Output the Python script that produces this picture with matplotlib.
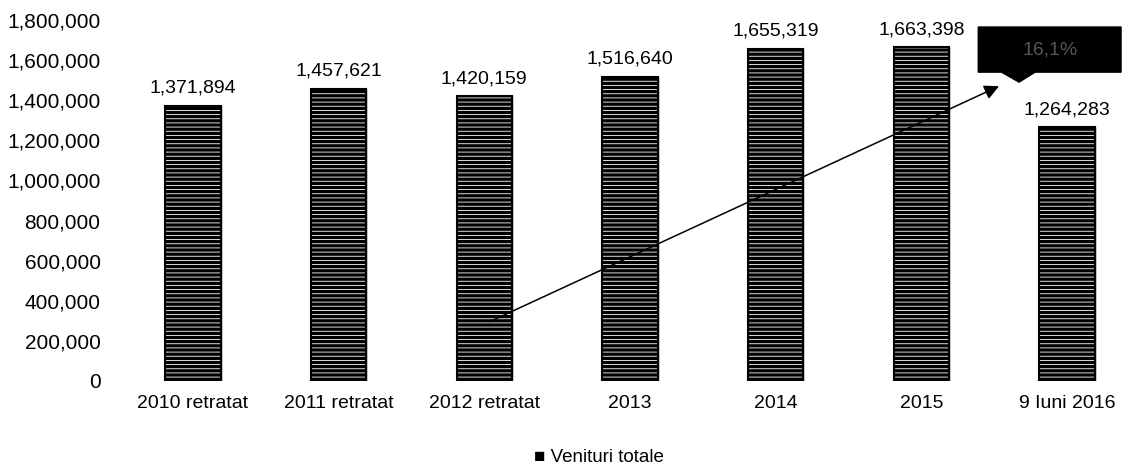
import matplotlib.pyplot as plt
from matplotlib.patches import FancyArrowPatch, Polygon
from matplotlib.ticker import FuncFormatter

plt.rcParams["font.family"] = ["Liberation Sans", "DejaVu Sans"]
plt.rcParams["hatch.linewidth"] = 0.6

categories = ["2010 retratat", "2011 retratat", "2012 retratat", "2013", "2014", "2015", "9 Iuni 2016"]
venituri = [1371894, 1457621, 1420159, 1516640, 1655319, 1663398, 1264283]
callout_text = "16,1%"

fig = plt.figure(figsize=(11.37, 4.70), dpi=100)
ax = fig.add_axes([120 / 1137, 1 - 381 / 470, 1020 / 1137, (381 - 20) / 470])

x = range(len(categories))
width = 0.38
ax.bar(x, venituri, width=width, color="black", edgecolor="black", linewidth=1)
ax.bar(x, venituri, width=width, facecolor="none", edgecolor="white", hatch="----", linewidth=0)
ax.bar(x, venituri, width=width, facecolor="none", edgecolor="black", linewidth=1.5)

for i, v in enumerate(venituri):
    ax.text(i, v + 45000, f"{v:,}", ha="center", va="bottom", fontsize=14, clip_on=False)

ax.set_xlim(-0.5, len(categories) - 0.5)
ax.set_ylim(0, 1800000)
ax.set_yticks(range(0, 1800001, 200000))
ax.yaxis.set_major_formatter(FuncFormatter(lambda v, p: f"{int(v):,}"))
ax.set_xticks(list(x))
ax.set_xticklabels(categories, fontsize=14)
ax.tick_params(axis="y", length=0, labelsize=15, pad=14)
ax.tick_params(axis="x", length=0, pad=10)
for s in ax.spines.values():
    s.set_visible(False)
ax.axhline(0, color="#cccccc", lw=0.8, ls=(0, (2, 6)))

# growth arrow
arrow = FancyArrowPatch((2.02, 290000), (5.55, 1476000), arrowstyle="-|>", mutation_scale=22,
                        color="black", lw=1.1, clip_on=False)
ax.add_patch(arrow)

# black callout box with small notch
bx0, bx1, by0, by1 = 5.39, 6.37, 1540000, 1765000
poly = Polygon([(bx0, by1), (bx1, by1), (bx1, by0), (5.78, by0), (5.67, by0 - 50000),
                (5.55, by0), (bx0, by0)], closed=True, color="black", clip_on=False)
ax.add_patch(poly)
ax.text((bx0 + bx1) / 2, (by0 + by1) / 2, callout_text, color="#555555", ha="center",
        va="center", fontsize=14, clip_on=False)

fig.text(0.527, 1 - 458 / 470, "\u25a0 Venituri totale", ha="center", va="center", fontsize=13.5)

fig.savefig("out.png", dpi=100)
